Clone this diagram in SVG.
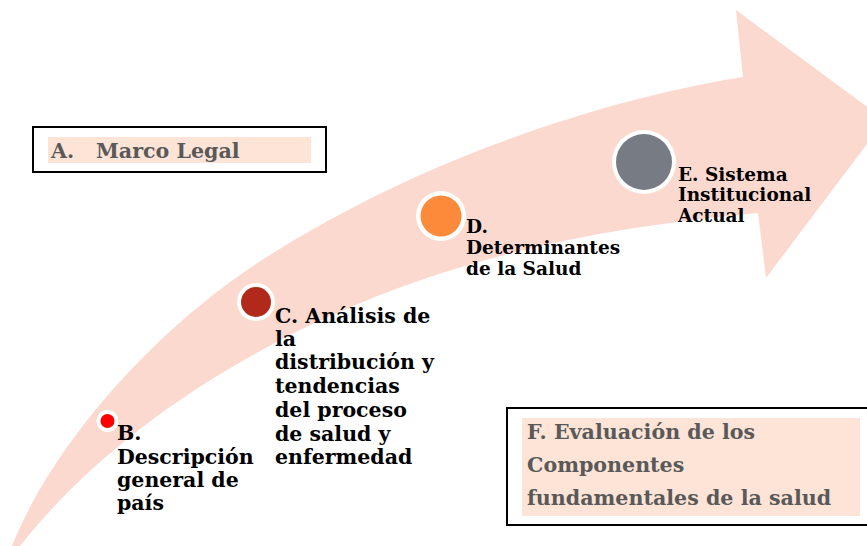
<svg xmlns="http://www.w3.org/2000/svg" width="867" height="546" viewBox="0 0 867 546">
<style>
.lbl{font-family:"DejaVu Serif","Liberation Serif",serif;font-weight:bold;font-size:20.5px;fill:#000}
.sm{font-size:18.5px}
.box{font-family:"DejaVu Serif","Liberation Serif",serif;font-weight:bold;font-size:20.6px;fill:#595959}
.frame{fill:#fff;stroke:#000;stroke-width:2}
.pad{fill:#FDE4D7}
.ring{fill:#fff}
</style>
<rect width="867" height="546" fill="#fff"/>
<g id="arrow">
<path d="M12,546 C50,450 150,330 270,255 C420,160 600,100 743,77 L736,10 L885,120 L766,278 L758,213 C600,228 455,255 300,330 C170,395 80,470 20,546 Z" fill="#FCD9CF"/>
</g>
<g id="nodeA">
<rect class="frame" x="33" y="127" width="293" height="45"/>
<rect class="pad" x="48" y="137" width="263" height="26"/>
<text class="box" x="51" y="158">A.<tspan x="96">Marco Legal</tspan></text>
</g>
<g id="nodeB">
<circle class="ring" cx="107.5" cy="421" r="11"/>
<circle cx="107.5" cy="421" r="7" fill="#FF0000"/>
<text class="lbl"><tspan x="117" y="440">B.</tspan><tspan x="117" y="464">Descripción</tspan><tspan x="117" y="487">general de</tspan><tspan x="117" y="510">país</tspan></text>
</g>
<g id="nodeC">
<circle class="ring" cx="256" cy="302" r="19"/>
<circle cx="256" cy="302" r="15" fill="#B0291A"/>
<text class="lbl"><tspan x="275" y="323">C. Análisis de</tspan><tspan x="275" y="346">la</tspan><tspan x="275" y="369">distribución y</tspan><tspan x="275" y="393">tendencias</tspan><tspan x="275" y="417">del proceso</tspan><tspan x="275" y="441">de salud y</tspan><tspan x="275" y="464">enfermedad</tspan></text>
</g>
<g id="nodeD">
<circle class="ring" cx="441" cy="216" r="25"/>
<circle cx="441" cy="216" r="20.5" fill="#FD8A3A"/>
<text class="lbl sm"><tspan x="466" y="233">D.</tspan><tspan x="466" y="254">Determinantes</tspan><tspan x="466" y="275">de la Salud</tspan></text>
</g>
<g id="nodeE">
<circle class="ring" cx="644" cy="162" r="32"/>
<circle cx="644" cy="162" r="28" fill="#777B83"/>
<text class="lbl sm"><tspan x="678" y="181">E. Sistema</tspan><tspan x="678" y="201">Institucional</tspan><tspan x="678" y="222">Actual</tspan></text>
</g>
<g id="nodeF">
<rect class="frame" x="507" y="408" width="370" height="117"/>
<rect class="pad" x="522" y="418" width="338" height="98"/>
<text class="box"><tspan x="527" y="439">F. Evaluación de los</tspan><tspan x="527" y="472">Componentes</tspan><tspan x="527" y="505">fundamentales de la salud</tspan></text>
</g>
<g id="connectors"/>
</svg>
